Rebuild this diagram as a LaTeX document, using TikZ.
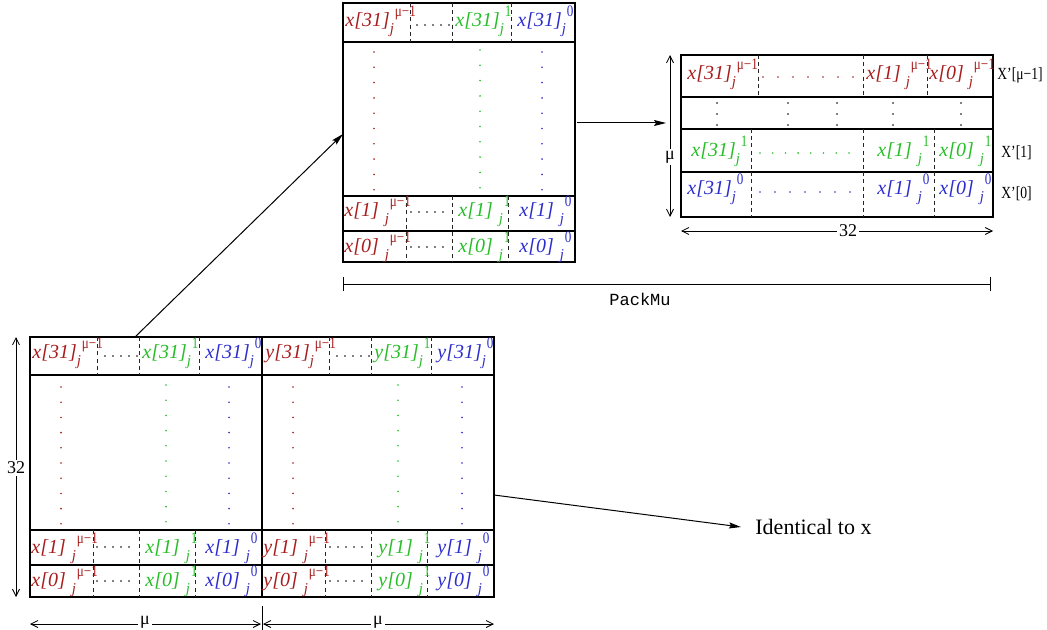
\documentclass[tikz,border=0pt]{standalone}
\usepackage{fontspec}
\setmainfont{Liberation Serif}
\setmonofont{Liberation Mono}
\usetikzlibrary{arrows.meta}

\definecolor{cr}{RGB}{168,30,30}
\definecolor{cg}{RGB}{40,190,40}
\definecolor{cb}{RGB}{45,45,205}

% element label: name[index] with subscript j and the superscript on the right
\newcommand{\el}[4][0pt]{\textit{#2[#3]}\kern#1\rlap{\raisebox{-3.5pt}{\fontsize{7.5}{8}\selectfont\textit{j}}}\raisebox{5pt}{\fontsize{8}{9}\selectfont\kern2.5pt\scalebox{0.82}[1]{#4}}}
% narrow upright label used beside the output words
\newcommand{\wordlab}[1]{\scalebox{0.8}[1]{#1}}

\begin{document}
\begin{tikzpicture}[x=0.5pt,y=-0.5pt,
  cell/.style={anchor=base west, inner sep=0pt, font=\fontsize{10}{11}\selectfont},
  frame/.style={draw=black, line width=0.6pt},
  sep/.style={draw=black!85, line width=0.5pt, dash pattern=on 2pt off 1.6pt},
  dim/.style={line width=0.4pt, {Straight Barb[length=3.5pt,width=3.5pt]}-{Straight Barb[length=3.5pt,width=3.5pt]}},
  link/.style={line width=0.5pt, -{Stealth[length=6pt,width=3pt,inset=1pt]}},
  dimlab/.style={fill=white, inner sep=1.2pt, font=\fontsize{9}{10}\selectfont},
  rowlab/.style={anchor=base west, inner sep=0pt, font=\fontsize{8.5}{9}\selectfont},
]
\useasboundingbox (0,0) rectangle (1047,630);

% ---------------- packed block (top) ----------------
\draw[frame, line width=0.8pt] (343,3) rectangle (575,262);
\draw[frame] (343,42) -- (575,42);
\draw[frame] (343,196) -- (575,196);
\draw[frame] (343,231) -- (575,231);
\foreach \xx in {410,452,511} \draw[sep] (\xx,3) -- (\xx,42);
\foreach \xx in {406,452,508} \draw[sep] (\xx,196) -- (\xx,262);
\foreach \xx in {417,425,...,449} \fill (\xx,25) circle (0.4pt);
\foreach \xx in {411,419,...,443} {\fill (\xx,212) circle (0.4pt); \fill (\xx,247) circle (0.4pt);}
\foreach \k in {0,...,9} {
  \fill[cr] (374,{52+15.3*\k}) circle (0.45pt);
  \fill[cg] (480,{50+15.3*\k}) circle (0.45pt);
  \fill[cb] (542,{52+15.3*\k}) circle (0.45pt);
}
\node[cell, text=cr] (t31r) at (345,27) {\el{x}{31}{μ−1}};
\node[cell, text=cg] (t31g) at (455,27) {\el{x}{31}{1}};
\node[cell, text=cb] (t31b) at (517,27) {\el{x}{31}{0}};
\node[cell, text=cr] (t1r) at (344,217) {\el[3pt]{x}{1}{μ−1}};
\node[cell, text=cg] (t1g) at (458,217) {\el[3pt]{x}{1}{1}};
\node[cell, text=cb] (t1b) at (519,217) {\el[3pt]{x}{1}{0}};
\node[cell, text=cr] (t0r) at (344,253) {\el[3pt]{x}{0}{μ−1}};
\node[cell, text=cg] (t0g) at (458,253) {\el[3pt]{x}{0}{1}};
\node[cell, text=cb] (t0b) at (519,253) {\el[3pt]{x}{0}{0}};

% PackMu extent
\coordinate (pmL) at (343,284);
\coordinate (pmR) at (990,284);
\draw[line width=0.4pt] (pmL) -- (pmR);
\draw[line width=0.4pt] (343,277) -- (343,291);
\draw[line width=0.4pt] (990,277) -- (990,291);
\node[font=\ttfamily\fontsize{8.5}{9}\selectfont] (pm) at (640,299) {PackMu};

% ---------------- output words (right) ----------------
\draw[frame] (681,55) rectangle (993,217);
\foreach \yy in {97,129,172} \draw[frame] (681,\yy) -- (993,\yy);
\foreach \xx in {758,863,927} \draw[sep] (\xx,55) -- (\xx,97);
\foreach \xx in {751,863,934} \draw[sep] (\xx,129) -- (\xx,217);
\foreach \xx in {717,788,837,893,961}
  \foreach \yy in {103,114,125} \fill (\xx,\yy) circle (0.4pt);
\foreach \k in {0,...,6} {
  \fill[cr] ({763+15*\k},77) circle (0.45pt);
  \fill[cb] ({760+15*\k},192) circle (0.45pt);
}
\foreach \k in {0,...,7} \fill[cg] ({760+12.7*\k},153) circle (0.45pt);
\node[cell, text=cr] (r31r) at (687,80) {\el{x}{31}{μ−1}};
\node[cell, text=cr] (r1r) at (866,80) {\el[2.5pt]{x}{1}{μ−1}};
\node[cell, text=cr] (r0r) at (929,80) {\el[2.5pt]{x}{0}{μ−1}};
\node[cell, text=cg] (r31g) at (691,157) {\el{x}{31}{1}};
\node[cell, text=cg] (r1g) at (877,157) {\el[3pt]{x}{1}{1}};
\node[cell, text=cg] (r0g) at (939,157) {\el[3pt]{x}{0}{1}};
\node[cell, text=cb] (r31b) at (687,195) {\el{x}{31}{0}};
\node[cell, text=cb] (r1b) at (877,195) {\el[3pt]{x}{1}{0}};
\node[cell, text=cb] (r0b) at (939,195) {\el[3pt]{x}{0}{0}};
\node[rowlab] (wmu) at (997,80) {\wordlab{X'[μ−1]}};
\node[rowlab] (w1) at (1001,158) {\wordlab{X'[1]}};
\node[rowlab] (w0) at (1001,199) {\wordlab{X'[0]}};

\coordinate (rvT) at (670,55);
\coordinate (rvB) at (670,217);
\draw[dim] (rvT) -- (rvB);
\node[dimlab] (rmu) at (670,157) {μ};
\coordinate (rhL) at (681,231);
\coordinate (rhR) at (993,231);
\draw[dim] (rhL) -- (rhR);
\node[dimlab] (r32) at (848,231) {32};

% ---------------- input words x and y (bottom) ----------------
\draw[frame] (30,337) rectangle (494,597);
\draw[frame] (262,337) -- (262,597);
\draw[frame] (30,375) -- (494,375);
\draw[frame] (30,530) -- (494,530);
\draw[frame] (30,565) -- (494,565);
\foreach \xx in {97,139,199,329,371,431} \draw[sep] (\xx,337) -- (\xx,375);
\foreach \xx in {93,139,195,325,371,427} \draw[sep] (\xx,530) -- (\xx,597);
\foreach \xx in {105,113,...,137,337,345,...,369} \fill (\xx,356) circle (0.4pt);
\foreach \xx in {97,105,...,129,330,338,...,362} {\fill (\xx,547) circle (0.4pt); \fill (\xx,581) circle (0.4pt);}
\foreach \k in {0,...,9} {
  \fill[cr] (61,{387+15.2*\k}) circle (0.45pt);
  \fill[cg] (166,{385+15.2*\k}) circle (0.45pt);
  \fill[cb] (229,{387+15.2*\k}) circle (0.45pt);
  \fill[cr] (293,{387+15.2*\k}) circle (0.45pt);
  \fill[cg] (398,{385+15.2*\k}) circle (0.45pt);
  \fill[cb] (462,{387+15.2*\k}) circle (0.45pt);
}
\node[cell, text=cr] (x31r) at (32,358) {\el{x}{31}{μ−1}};
\node[cell, text=cg] (x31g) at (142,358) {\el{x}{31}{1}};
\node[cell, text=cb] (x31b) at (205,358) {\el{x}{31}{0}};
\node[cell, text=cr] (x1r) at (31,553) {\el[3pt]{x}{1}{μ−1}};
\node[cell, text=cg] (x1g) at (145,553) {\el[3pt]{x}{1}{1}};
\node[cell, text=cb] (x1b) at (205,553) {\el[3pt]{x}{1}{0}};
\node[cell, text=cr] (x0r) at (31,586) {\el[3pt]{x}{0}{μ−1}};
\node[cell, text=cg] (x0g) at (145,586) {\el[3pt]{x}{0}{1}};
\node[cell, text=cb] (x0b) at (205,586) {\el[3pt]{x}{0}{0}};
\node[cell, text=cr] (y31r) at (265,358) {\el{y}{31}{μ−1}};
\node[cell, text=cg] (y31g) at (374,358) {\el{y}{31}{1}};
\node[cell, text=cb] (y31b) at (437,358) {\el{y}{31}{0}};
\node[cell, text=cr] (y1r) at (263,553) {\el[3pt]{y}{1}{μ−1}};
\node[cell, text=cg] (y1g) at (378,553) {\el[3pt]{y}{1}{1}};
\node[cell, text=cb] (y1b) at (437,553) {\el[3pt]{y}{1}{0}};
\node[cell, text=cr] (y0r) at (263,586) {\el[3pt]{y}{0}{μ−1}};
\node[cell, text=cg] (y0g) at (378,586) {\el[3pt]{y}{0}{1}};
\node[cell, text=cb] (y0b) at (437,586) {\el[3pt]{y}{0}{0}};

\coordinate (bvT) at (16,337);
\coordinate (bvB) at (16,597);
\draw[dim] (bvT) -- (bvB);
\node[dimlab] (b32) at (16,468) {32};
\coordinate (bxL) at (30,624);
\coordinate (bxR) at (261,624);
\coordinate (byL) at (263,624);
\coordinate (byR) at (494,624);
\draw[dim] (bxL) -- (bxR);
\draw[dim] (byL) -- (byR);
\node[dimlab] (bmux) at (145,622) {μ};
\node[dimlab] (bmuy) at (378,622) {μ};
\draw[line width=0.4pt] (262,606) -- (262,630);

% ---------------- connectors ----------------
\coordinate (xTop) at (135,337);
\coordinate (pkIn) at (343,134);
\draw[link] (xTop) -- (pkIn);
\coordinate (pkOut) at (577,123);
\coordinate (wIn) at (666,123);
\draw[link] (pkOut) -- (wIn);
\coordinate (yOut) at (494,495);
\node[anchor=west, inner sep=0pt, font=\fontsize{11}{12}\selectfont] (same) at (755,527) {Identical to x};
\draw[link] (yOut) -- ([xshift=-7pt]same.west);
\end{tikzpicture}
\end{document}
